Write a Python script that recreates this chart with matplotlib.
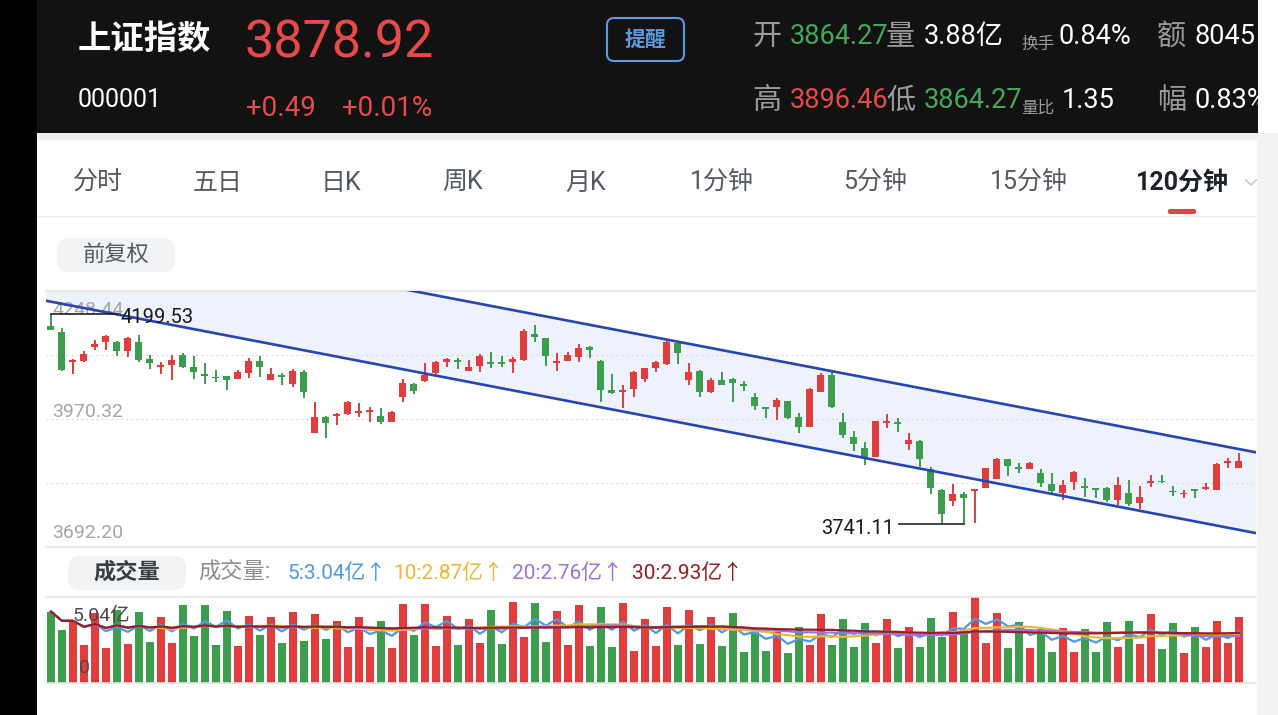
import numpy as np
import pandas as pd
import matplotlib
matplotlib.use('Agg')
import matplotlib.pyplot as plt
from matplotlib.patches import Rectangle, FancyBboxPatch

plt.rcParams['font.family'] = ['Roboto', 'Noto Sans CJK SC', 'DejaVu Sans']

# ---- quote header ----
index_name = '上证指数'
index_code = '000001'
last_price = '3878.92'
change_abs = '+0.49'
change_pct = '+0.01%'
quote_row1 = [('开', '3864.27', 'g'), ('量', '3.88亿', 'w'), ('换手', '0.84%', 'w'), ('额', '8045', 'w')]
quote_row2 = [('高', '3896.46', 'r'), ('低', '3864.27', 'g'), ('量比', '1.35', 'w'), ('幅', '0.83%', 'w')]
tabs = ['分时', '五日', '日K', '周K', '月K', '1分钟', '5分钟', '15分钟', '120分钟']
selected_tab = '120分钟'

# ---- 120 minute candles ----
opens = [4173.1, 4160.1, 4094.9, 4096.4, 4126.8, 4138.4, 4136.9, 4118.8, 4136.9, 4100.7,
         4083.3, 4087.7, 4109.4, 4084.0, 4068.8, 4062.3, 4063.8, 4057.3, 4069.6, 4096.4,
         4055.1, 4066.0, 4045.7, 4073.2, 3940.6, 3973.9, 3976.9, 3981.2, 3984.1, 3986.3,
         3977.6, 3964.5, 4018.9, 4047.1, 4052.9, 4069.6, 4093.5, 4098.5, 4075.4, 4085.5,
         4094.9, 4093.5, 4094.9, 4098.5, 4155.0, 4145.6, 4092.0, 4096.4, 4105.8, 4127.5,
         4097.1, 4033.3, 4028.3, 4034.8, 4057.3, 4081.9, 4089.8, 4134.8, 4055.1, 4074.6,
         4029.7, 4055.1, 4057.3, 4045.7, 4018.9, 3997.1, 3997.1, 4009.5, 3975.4, 3953.7,
         4029.7, 4066.0, 3964.5, 3931.9, 3906.6, 3888.5, 3960.9, 3963.1, 3915.3, 3922.5,
         3861.7, 3816.1, 3792.2, 3807.4, 3813.9, 3821.1, 3840.0, 3882.7, 3866.8, 3861.7,
         3852.3, 3828.4, 3808.8, 3832.7, 3824.8, 3818.2, 3821.1, 3794.3, 3808.8, 3787.1,
         3831.3, 3835.6, 3813.9, 3806.6, 3816.1, 3818.2, 3816.1, 3874.0, 3864.27]
highs = [4199.53, 4167.3, 4100.7, 4118.1, 4142.0, 4152.9, 4139.8, 4149.2, 4152.9, 4109.4,
         4093.5, 4109.4, 4113.0, 4107.2, 4091.3, 4076.8, 4063.8, 4076.8, 4102.2, 4107.2,
         4080.4, 4071.0, 4079.0, 4076.8, 4006.5, 3977.6, 3982.7, 4010.2, 4004.4, 3997.1,
         3995.0, 3987.7, 4057.3, 4049.3, 4091.3, 4096.4, 4103.6, 4102.2, 4097.8, 4110.9,
         4116.6, 4107.2, 4105.8, 4165.2, 4174.6, 4147.1, 4113.0, 4116.6, 4132.6, 4129.7,
         4098.5, 4067.4, 4044.2, 4074.6, 4081.9, 4096.4, 4142.0, 4138.4, 4091.3, 4076.8,
         4060.1, 4071.7, 4058.7, 4052.9, 4027.5, 3997.1, 4015.2, 4009.5, 3984.1, 4038.4,
         4069.6, 4071.7, 3982.7, 3945.0, 3921.1, 3966.0, 3980.5, 3973.2, 3939.2, 3924.7,
         3866.8, 3818.2, 3829.1, 3812.4, 3818.2, 3864.6, 3884.9, 3883.4, 3874.0, 3877.6,
         3861.0, 3852.3, 3837.8, 3857.4, 3842.9, 3818.2, 3823.3, 3843.6, 3837.8, 3825.5,
         3849.0, 3849.0, 3824.8, 3816.1, 3816.1, 3832.0, 3874.0, 3884.9, 3896.46]
lows = [4163.7, 4074.6, 4067.4, 4094.9, 4120.3, 4120.3, 4107.9, 4105.8, 4093.5, 4078.3,
        4067.4, 4055.1, 4080.4, 4056.5, 4046.4, 4051.5, 4032.6, 4057.3, 4060.1, 4062.3,
        4055.1, 4044.2, 4040.6, 4015.2, 3939.2, 3928.3, 3957.3, 3979.0, 3973.9, 3963.1,
        3958.8, 3964.5, 4008.0, 4023.9, 4051.5, 4067.4, 4084.0, 4079.0, 4075.4, 4073.2,
        4080.4, 4084.0, 4069.6, 4096.4, 4138.4, 4085.5, 4074.6, 4096.4, 4093.5, 4102.2,
        4008.0, 4023.9, 3993.5, 4018.9, 4051.5, 4073.2, 4087.7, 4089.8, 4044.2, 4018.9,
        4026.1, 4044.2, 4006.5, 4031.2, 3989.9, 3971.8, 3968.2, 3970.3, 3939.2, 3953.7,
        4028.3, 3995.0, 3929.8, 3901.5, 3870.4, 3888.5, 3950.1, 3942.8, 3903.0, 3866.8,
        3806.6, 3744.0, 3781.3, 3741.11, 3745.0, 3819.7, 3840.0, 3847.2, 3852.3, 3861.7,
        3823.3, 3808.8, 3794.3, 3816.1, 3801.6, 3797.9, 3789.3, 3783.5, 3782.0, 3774.8,
        3823.3, 3830.5, 3803.0, 3797.9, 3799.4, 3816.1, 3816.1, 3864.6, 3864.27]
closes = [4163.7, 4076.8, 4097.8, 4110.8, 4134.0, 4150.7, 4118.1, 4145.6, 4098.5, 4091.3,
          4087.7, 4098.5, 4084.0, 4071.7, 4064.5, 4058.7, 4055.1, 4073.2, 4096.4, 4084.0,
          4067.4, 4062.3, 4074.6, 4029.7, 3973.9, 3960.9, 3980.5, 4008.0, 3987.7, 3989.9,
          3964.5, 3986.3, 4047.8, 4031.2, 4066.0, 4094.9, 4100.7, 4093.5, 4084.0, 4108.0,
          4090.6, 4089.9, 4100.7, 4162.3, 4149.2, 4107.9, 4096.4, 4109.4, 4125.3, 4120.3,
          4033.3, 4026.1, 4032.6, 4073.2, 4080.4, 4093.5, 4136.9, 4113.0, 4073.2, 4029.7,
          4055.1, 4044.2, 4047.8, 4042.8, 3999.3, 3992.1, 4011.6, 3971.8, 3953.7, 4035.5,
          4066.0, 3997.1, 3935.6, 3915.3, 3888.5, 3966.0, 3966.0, 3958.8, 3924.7, 3883.4,
          3819.7, 3763.9, 3806.6, 3797.9, 3818.2, 3863.1, 3883.4, 3868.9, 3861.7, 3875.4,
          3830.5, 3813.9, 3826.9, 3855.9, 3821.1, 3816.1, 3794.3, 3826.9, 3785.0, 3801.6,
          3835.6, 3832.7, 3811.0, 3810.3, 3813.9, 3823.3, 3872.5, 3879.1, 3878.92]

# volume in 亿, and bar colour as drawn (R = red, G = green)
volumes = [4.18, 3.11, 3.65, 2.23, 4.12, 2.07, 4.28, 2.29, 4.18, 2.42,
           3.89, 2.32, 4.57, 2.75, 4.57, 2.23, 4.24, 2.19, 3.93, 2.79,
           3.89, 2.32, 4.18, 2.46, 4.04, 2.58, 3.65, 2.13, 3.85, 2.13,
           3.63, 2.07, 4.63, 2.81, 4.63, 2.17, 3.95, 2.23, 3.75, 2.32,
           4.28, 2.29, 4.77, 2.68, 4.71, 2.38, 4.22, 2.23, 4.57, 2.17,
           4.47, 2.13, 4.67, 1.89, 3.77, 2.19, 4.47, 2.23, 4.28, 2.29,
           3.85, 2.17, 4.08, 1.82, 3.01, 1.88, 3.01, 1.74, 3.30, 2.23,
           4.04, 2.23, 3.77, 2.13, 3.50, 2.32, 3.73, 2.03, 3.26, 2.09,
           3.83, 2.72, 4.14, 3.11, 5.02, 2.32, 4.08, 2.05, 3.56, 2.07,
           3.15, 1.84, 3.20, 1.84, 3.15, 1.80, 3.59, 2.13, 3.63, 2.29,
           4.02, 1.97, 3.50, 1.78, 3.30, 2.09, 3.63, 2.32, 3.89]
vol_colors = ('GGRRRRGRGG' 'RRGGGGGRRG' 'RGRGRGRRRR' 'GRRGRRRGRR' 'GGRRGGRRRG'
              'GGRRRRRGRG' 'RGGGGGRGGR' 'RGGGGRRGRG' 'GGRGRRRGGR' 'GGRRGGGRGR'
              'RGGRGRRRR')

# drawn trend channel: two anchor points (candle index, price) per line
channel_upper = [(0, 4399.0), (108, 3905.0)]
channel_lower = [(0, 4225.2), (108, 3729.5)]

price_top = 4248.44
price_mid = 3970.32
price_bottom = 3692.20
vol_top = 5.04

ma_periods = [5, 10, 20, 30]
ma_labels = ['5:3.04亿↑', '10:2.87亿↑', '20:2.76亿↑', '30:2.93亿↑']
ma_colors = ['#4b9be3', '#efb534', '#9a72e3', '#951f24']

# ---- colours ----
RED = '#e13d3d'
GREEN = '#3c9e4d'
HEAD_RED = '#e8494a'
HEAD_GREEN = '#45a85a'
HEAD_GREY = '#9a9a9a'
BLUE_LINE = '#2745b3'

fig = plt.figure(figsize=(12.78, 7.15), dpi=100)

# background axes in pixel coordinates, y pointing down
bg = fig.add_axes([0, 0, 1, 1])
bg.set_xlim(0, 1278)
bg.set_ylim(715, 0)
bg.axis('off')


def box(x, y, w, h, color, z=1):
    bg.add_patch(Rectangle((x, y), w, h, facecolor=color, edgecolor='none', zorder=z))


def pill(x, y, w, h, color, r=12, z=1, edgecolor='none', lw=0):
    bg.add_patch(FancyBboxPatch((x, y), w, h, boxstyle=f'round,pad=0,rounding_size={r}',
                                facecolor=color, edgecolor=edgecolor, lw=lw, zorder=z))


# ---- page frame ----
box(0, 0, 37, 715, 'black', z=12)
box(37, 0, 1221, 133, '#121212')
box(1258, 0, 20, 133, 'white', z=11)
box(37, 133, 1221, 7, '#f1f1f1')
box(1257, 133, 21, 582, '#f3f3f3', z=11)
bg.plot([37, 1257], [215.5, 215.5], color='#ececec', lw=1, zorder=2)

# ---- header ----
bg.text(78, 40, index_name, color='white', fontsize=24, fontweight='bold', va='center')
bg.text(245, 43, last_price, color=HEAD_RED, fontsize=37.5, va='center')
bg.text(78, 100, index_code, color='white', fontsize=18, va='center')
bg.text(246, 108, change_abs, color=HEAD_RED, fontsize=20, va='center')
bg.text(342, 108, change_pct, color=HEAD_RED, fontsize=20, va='center')
pill(607, 18, 77, 43, 'none', r=7, z=2, edgecolor='#5a9be0', lw=1.5)
bg.text(645.5, 40, '提醒', color='#5a9be0', fontsize=15, fontweight='bold', ha='center', va='center')

value_colors = {'g': HEAD_GREEN, 'r': HEAD_RED, 'w': 'white'}
label_x = [752, 886, 1021, 1157]
value_x = [790, 924, 1059, 1195]
for row_y, row in [(37, quote_row1), (101, quote_row2)]:
    for (lab, val, c), lx, vx in zip(row, label_x, value_x):
        if len(lab) == 2:
            bg.text(lx, row_y + 7, lab, color=HEAD_GREY, fontsize=12, va='center')
            vx = lx + 38 + (3 if lab == '量比' else 0)
        else:
            bg.text(lx, row_y, lab, color=HEAD_GREY, fontsize=21, va='center')
        bg.text(vx, row_y, val, color=value_colors[c], fontsize=19.5, va='center')

# ---- period tabs ----
tab_x = [98, 218, 341, 462, 586, 722, 875, 1029, 1182]
for name, tx in zip(tabs, tab_x):
    sel = name == selected_tab
    bg.text(tx, 183, name, color='#1f2329' if sel else '#555a60', fontsize=18,
            fontweight='bold' if sel else 'normal', ha='center', va='center')
    if sel:
        pill(tx - 14, 209, 28, 5, '#e04343', r=2)
bg.plot([1246, 1251, 1256], [180, 185, 180], color='#c8c8c8', lw=1.2, zorder=2)

# ---- pills ----
pill(57, 238, 118, 34, '#f2f3f5')
bg.text(116, 255, '前复权', color='#555a60', fontsize=16, ha='center', va='center')
pill(68, 556, 118, 34, '#f2f3f5')
bg.text(127, 573, '成交量', color='#3a3d42', fontsize=16, fontweight='bold', ha='center', va='center')
bg.text(198, 573, '成交量:', color='#8c8c8c', fontsize=16, va='center')
for lab, c, lx in zip(ma_labels, ma_colors, [287, 393, 512, 632]):
    bg.text(lx, 573, lab, color=c, fontsize=15, va='center')

# ---- price panel ----
n = len(opens)
x = np.arange(n)
o = np.array(opens)
h = np.array(highs)
l = np.array(lows)
c = np.array(closes)
up = c >= o
cols = np.where(up, RED, GREEN)

ax = fig.add_axes([46 / 1278, (715 - 547) / 715, 1210 / 1278, 256 / 715])
ax.set_facecolor('none')
ax.set_xlim(-0.45, n + 0.55)
ax.set_ylim(price_bottom, price_top)


def line_at(anchor, xs):
    (x0, y0), (x1, y1) = anchor
    return y0 + (np.asarray(xs) - x0) * (y1 - y0) / (x1 - x0)


xs = np.array(ax.get_xlim())
ax.fill_between(xs, line_at(channel_lower, xs), line_at(channel_upper, xs),
                color='#edf2fc', lw=0, zorder=0)
ax.plot(xs, line_at(channel_upper, xs), color=BLUE_LINE, lw=1.9, zorder=5)
ax.plot(xs, line_at(channel_lower, xs), color=BLUE_LINE, lw=1.9, zorder=5)

ax.vlines(x, l, h, colors=cols, lw=1.4, zorder=3)
body = np.maximum(np.abs(c - o), 3.5)
ax.bar(x, body, bottom=np.minimum(o, c), width=0.64, color=cols, lw=0, zorder=4)

grid_levels = np.linspace(price_bottom, price_top, 5)
ax.set_yticks(grid_levels[1:-1])
ax.set_xticks([])
ax.tick_params(left=False, labelleft=False)
ax.grid(axis='y', color='#d9d9d9', lw=0.9, ls=(0, (1.5, 2.5)), zorder=1)
for s in ['left', 'right']:
    ax.spines[s].set_visible(False)
for s in ['top', 'bottom']:
    ax.spines[s].set_color('#e3e3e3')
    ax.spines[s].set_linewidth(1.2)

trans = ax.get_yaxis_transform()
for val, dy in [(price_top, -13.5), (price_mid, 5), (price_bottom, 10)]:
    ax.annotate(f'{val:.2f}', xy=(0.005, val), xycoords=trans, xytext=(0, dy),
                textcoords='offset points', color='#a5a5a5', fontsize=14, va='center', zorder=2)

# highest / lowest markers
imax = int(np.argmax(h))
imin = int(np.argmin(l))
ax.plot([imax, imax + 6.1], [h[imax], h[imax]], color='#222222', lw=1.2, zorder=6)
ax.annotate(f'{h[imax]:.2f}', xy=(imax + 6.3, h[imax]), xytext=(0, -3), textcoords='offset points',
            color='#1a1a1a', fontsize=14.5, va='center', ha='left', zorder=6)
ax.plot([imin - 5.9, imin], [l[imin], l[imin]], color='#222222', lw=1.2, zorder=6)
ax.annotate(f'{l[imin]:.2f}', xy=(imin - 6.3, l[imin]), xytext=(0, -3), textcoords='offset points',
            color='#1a1a1a', fontsize=14.5, va='center', ha='right', zorder=6)

# ---- volume panel ----
vax = fig.add_axes([46 / 1278, (715 - 683) / 715, 1210 / 1278, 86 / 715])
vax.set_facecolor('none')
vax.set_xlim(-0.45, n + 0.55)
vax.set_ylim(0, vol_top)
vcols = [RED if k == 'R' else GREEN for k in vol_colors]
vax.bar(x, volumes, width=0.74, color=vcols, lw=0, zorder=2)
vol = pd.Series(volumes)
for p, col in zip(ma_periods, ma_colors):
    vax.plot(x, vol.rolling(p, min_periods=1).mean(), color=col, lw=1.6, zorder=3)
vax.set_xticks([])
vax.set_yticks([])
for s in ['left', 'right']:
    vax.spines[s].set_visible(False)
for s in ['top', 'bottom']:
    vax.spines[s].set_color('#e3e3e3')
    vax.spines[s].set_linewidth(1.2)
vtrans = vax.get_yaxis_transform()
vax.annotate(f'{vol_top:.2f}亿', xy=(0.022, vol_top), xycoords=vtrans, xytext=(0, -13.5),
             textcoords='offset points', color='#4a4a4a', fontsize=14, va='center', zorder=5)
vax.annotate('0', xy=(0.027, 0), xycoords=vtrans, xytext=(0, 11),
             textcoords='offset points', color='#4a4a4a', fontsize=14, va='center', zorder=5)

fig.savefig('out.png', dpi=100)
